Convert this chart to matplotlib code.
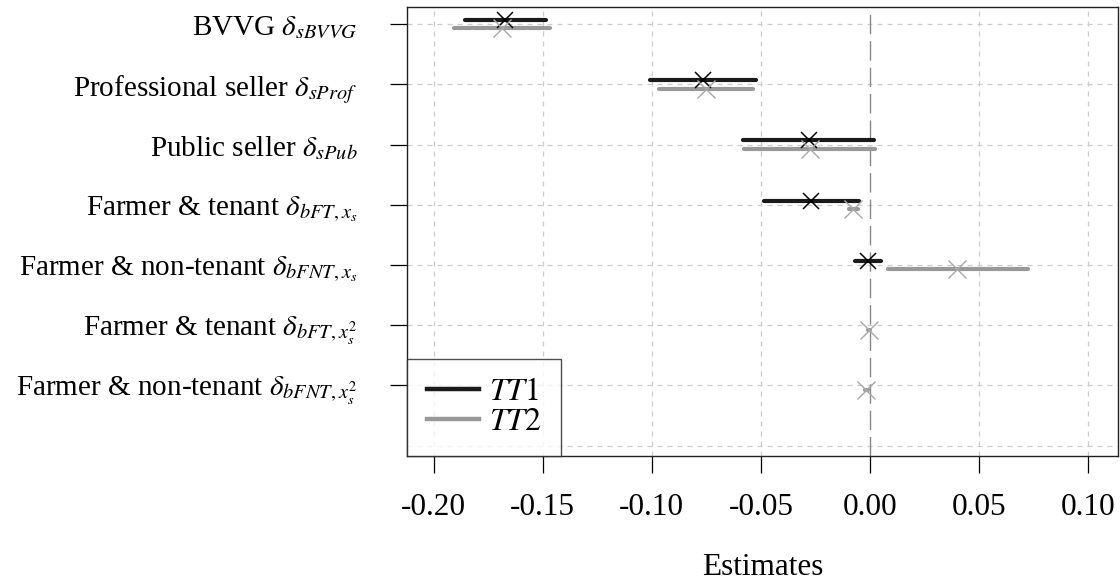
import numpy as np
import matplotlib
matplotlib.use('Agg')
import matplotlib.pyplot as plt
from matplotlib.lines import Line2D

# --- dados ---
labels = [r'BVVG $\delta_{sBVVG}$',
          r'Professional seller $\delta_{sProf}$',
          r'Public seller $\delta_{sPub}$',
          r'Farmer & tenant $\delta_{bFT,x_s}$',
          r'Farmer & non-tenant $\delta_{bFNT,x_s}$',
          r'Farmer & tenant $\delta_{bFT,x_s^2}$',
          r'Farmer & non-tenant $\delta_{bFNT,x_s^2}$']

tt1_est = [-0.1671, -0.0767, -0.0281, -0.0269, -0.0009, np.nan, np.nan]
tt1_lo = [-0.1855, -0.1010, -0.0581, -0.0486, -0.0069, np.nan, np.nan]
tt1_hi = [-0.1485, -0.0521, 0.0020, -0.0050, 0.0050, np.nan, np.nan]

tt2_est = [-0.1687, -0.0753, -0.0277, -0.0078, 0.0400, -0.0006, -0.0018]
tt2_lo = [-0.1908, -0.0966, -0.0576, -0.0098, 0.0082, -0.0010, -0.0025]
tt2_hi = [-0.1468, -0.0536, 0.0024, -0.0057, 0.0724, -0.0002, -0.0011]

xticks = [-0.20, -0.15, -0.10, -0.05, 0.00, 0.05, 0.10]

PRETO = '#1a1a1a'
CINZA = '#999999'
CINZA_MARCA = '#a8a8a8'
DESLOC = 0.07

plt.rcParams['font.family'] = ['Liberation Serif', 'DejaVu Serif']
plt.rcParams['mathtext.fontset'] = 'stix'

fig = plt.figure(figsize=(11.2, 5.84), dpi=100)
ax = fig.add_axes([0.3637, 0.2192, 0.998 - 0.3637, 0.9875 - 0.2192])

ypos = np.arange(len(labels))

# grade
for g in np.arange(len(labels) + 1):
    ax.axhline(g, color='#cccccc', lw=0.9, ls=(0, (4, 4)), zorder=0)
for xt in xticks:
    if xt != 0:
        ax.axvline(xt, color='#cccccc', lw=0.9, ls=(0, (4, 4)), zorder=0)
ax.axvline(0, color='#888888', lw=1.0, ls=(0, (14, 5)), zorder=1)

for i, y in enumerate(ypos):
    if not np.isnan(tt1_est[i]):
        ax.plot([tt1_lo[i], tt1_hi[i]], [y - DESLOC, y - DESLOC], color=PRETO,
                lw=3, solid_capstyle='round', zorder=3)
        ax.plot(tt1_est[i], y - DESLOC, marker='x', ms=11, mew=1.1,
                color='black', zorder=4)
    ax.plot([tt2_lo[i], tt2_hi[i]], [y + DESLOC, y + DESLOC], color=CINZA,
            lw=3, solid_capstyle='round', zorder=3)
    ax.plot(tt2_est[i], y + DESLOC, marker='x', ms=13, mew=1.0,
            color=CINZA_MARCA, zorder=4)

ax.set_xlim(-0.212, 0.1135)
ax.set_ylim(len(labels) + 0.171, -0.282)
ax.set_xticks(xticks)
ax.set_xticklabels(['%.2f' % v for v in xticks])
ax.set_yticks(ypos)
ax.set_yticklabels(labels)
ax.tick_params(axis='x', length=12, width=0.9, pad=15, labelsize=22.5)
ax.tick_params(axis='y', length=12, width=0.9, pad=24, labelsize=21)
for s in ax.spines.values():
    s.set_linewidth(1.0)
    s.set_color('#222222')

ax.set_xlabel('Estimates', fontsize=22.5, labelpad=22)

handles = [Line2D([0], [0], color=PRETO, lw=3.2),
           Line2D([0], [0], color=CINZA, lw=3.2)]
leg = ax.legend(handles, [r'$TT1\ \,$', r'$TT2\ \,$'], loc='lower left', fontsize=23,
                frameon=True, fancybox=False, borderaxespad=0,
                handlelength=1.65, handletextpad=0.3, labelspacing=0.0,
                borderpad=0.6)
leg.get_frame().set_edgecolor('#222222')
leg.get_frame().set_linewidth(1.0)

fig.savefig('out.png', dpi=100)
